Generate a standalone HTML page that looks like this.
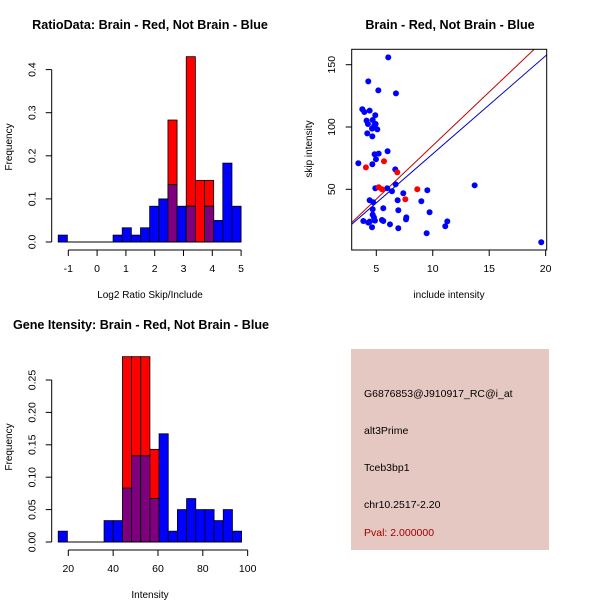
<!DOCTYPE html>
<html><head><meta charset="utf-8"><style>
body{margin:0;background:#fff}
svg{display:block;font-family:"Liberation Sans",sans-serif}
</style></head><body>
<svg id="c" width="600" height="600" xmlns="http://www.w3.org/2000/svg">
<text x="150" y="29" font-size="12.6" font-weight="bold" text-anchor="middle">RatioData: Brain - Red, Not Brain - Blue</text>
<text x="450" y="29" font-size="12.6" font-weight="bold" text-anchor="middle">Brain - Red, Not Brain - Blue</text>
<text x="141" y="329" font-size="12.6" font-weight="bold" text-anchor="middle">Gene Itensity: Brain - Red, Not Brain - Blue</text>
<text x="150" y="298" font-size="10" text-anchor="middle">Log2 Ratio Skip/Include</text>
<text x="12" y="147" font-size="10" text-anchor="middle" transform="rotate(-90 12 147)">Frequency</text>
<text x="449" y="298" font-size="10" text-anchor="middle">include intensity</text>
<text x="312" y="149" font-size="10" text-anchor="middle" transform="rotate(-90 312 149)">skip intensity</text>
<text x="150" y="598" font-size="10" text-anchor="middle">Intensity</text>
<text x="12" y="447" font-size="10" text-anchor="middle" transform="rotate(-90 12 447)">Frequency</text>
<rect x="351" y="349" width="198" height="201" fill="#e5c8c2"/>
<g font-size="10.5">
<text x="364" y="397">G6876853@J910917_RC@i_at</text>
<text x="364" y="434">alt3Prime</text>
<text x="364" y="471">Tceb3bp1</text>
<text x="364" y="508">chr10.2517-2.20</text>
<text x="364" y="536" fill="#a00000">Pval: 2.000000</text>
</g>
</svg>
<script>
const ratioRed=[0,0,0,0,0,0,0,0,0,0,0,0,0.283,0,0.43,0.143,0.143,0,0,0];
const ratioBlue=[0.016,0,0,0,0,0,0.016,0.033,0.016,0.033,0.083,0.1,0.133,0.083,0.083,0,0.083,0.05,0.183,0.083];
const ratioTicksX=[-1,0,1,2,3,4,5];
const ratioTicksY=["0.0","0.1","0.2","0.3","0.4"];
const intRed=[0,0,0,0,0,0,0,0.286,0.286,0.286,0.143,0,0,0,0,0,0,0,0,0];
const intBlue=[0.0167,0,0,0,0,0.033,0.033,0.083,0.133,0.133,0.067,0.167,0.0167,0.05,0.067,0.05,0.05,0.033,0.05,0.0167];
const intTicksX=[20,40,60,80,100];
const intTicksY=["0.00","0.05","0.10","0.15","0.20","0.25"];
const blueX=[6.06,4.29,5.18,6.74,3.76,4.41,3.94,4.91,4.14,4.68,4.94,4.26,4.62,4.82,5.09,4.20,4.65,6.00,5.21,4.85,4.97,3.41,4.65,6.68,4.91,5.97,6.39,6.71,7.39,4.41,4.73,9.52,13.71,8.99,4.68,5.62,6.89,6.95,9.72,7.66,7.63,3.85,4.41,5.62,5.50,4.68,4.79,4.88,4.29,4.62,6.21,6.95,9.46,11.11,11.29,19.61];
const blueY=[155.9,136.6,129.4,127.0,114.2,113.1,112.0,109.4,105.1,105.6,102.4,102.4,98.7,101.3,98.1,94.9,92.5,80.5,78.6,78.1,74.1,70.9,70.1,66.0,50.8,50.8,48.4,54.0,46.8,41.2,39.6,49.2,53.2,40.4,34.0,34.8,41.2,33.2,31.6,27.5,25.9,24.6,24.1,24.6,25.4,29.7,27.5,24.9,23.3,19.5,21.9,18.7,14.7,20.3,24.3,7.5];
const redX=[4.08,5.68,6.86,5.21,5.50,8.63,7.57];
const redY=[67.6,72.5,63.6,51.6,50.0,50.0,42.0];
const scTicksX=[5,10,15,20];
const scTicksY=[50,100,150];
const redLine=[-0.9,8.6];
const blueLine=[-0.25,7.87];

const svg=document.getElementById('c');
const NS='http://www.w3.org/2000/svg';
function mk(t,a,p){const e=document.createElementNS(NS,t);for(const k in a)e.setAttribute(k,a[k]);(p||svg).appendChild(e);return e;}

function hist(o){
  const g=mk('g',{});
  
  
  const sx=v=>o.x0+(v-o.d0)*o.kx, sy=v=>o.y0-v*o.ky;
  o.red.forEach((r,i)=>{
    const b=o.blue[i],l=sx(o.start+i*o.w),rr=sx(o.start+(i+1)*o.w);
    if(r>0){const e=mk('rect',{x:l,y:sy(r),width:rr-l,height:sy(0)-sy(r),fill:'#ff0000',stroke:'#000','stroke-width':0.8},g);
      
      }
    if(b>0){const e=mk('rect',{x:l,y:sy(b),width:rr-l,height:sy(0)-sy(b),fill:'#0000ff',stroke:'#000','stroke-width':0.8},g);
      
      }
    const m=Math.min(r,b);
    if(m>0){const e=mk('rect',{x:l,y:sy(m),width:rr-l,height:sy(0)-sy(m),fill:'#7f007f',stroke:'#000','stroke-width':0.8},g);
      
      }
  });
  mk('line',{x1:sx(o.start),x2:sx(o.start+o.w*o.red.length),y1:sy(0),y2:sy(0),stroke:'#000'},g);
  const ax=o.ticksX;
  mk('line',{x1:sx(ax[0]),x2:sx(ax[ax.length-1]),y1:o.axY,y2:o.axY,stroke:'#000'},g);
  ax.forEach(t=>{mk('line',{x1:sx(t),x2:sx(t),y1:o.axY,y2:o.axY+6,stroke:'#000'},g);
    const tx=mk('text',{x:sx(t),y:o.axY+22,'font-size':10.5,'text-anchor':'middle'},g);tx.textContent=t;
    
    });
  const ty=o.ticksY;
  mk('line',{x1:o.axX,x2:o.axX,y1:sy(+ty[0]),y2:sy(+ty[ty.length-1]),stroke:'#000'},g);
  ty.forEach(t=>{const y=sy(+t);mk('line',{x1:o.axX-6,x2:o.axX,y1:y,y2:y,stroke:'#000'},g);
    const lx=o.axX-16;
    const tx=mk('text',{x:lx,y:y,'font-size':10.5,'text-anchor':'middle',transform:`rotate(-90 ${lx} ${y})`},g);tx.textContent=t;
    
    });
}
hist({name:'ratio-histogram',red:ratioRed,blue:ratioBlue,start:-1.35,w:0.3175,d0:-1,x0:68.3,kx:28.8,y0:242,ky:431,axY:250,axX:51.7,ticksX:ratioTicksX,ticksY:ratioTicksY});
hist({name:'intensity-histogram',red:intRed,blue:intBlue,start:15.5,w:4.09,d0:20,x0:68.3,kx:2.242,y0:542,ky:648,axY:550,axX:51.7,ticksX:intTicksX,ticksY:intTicksY});

const sg=mk('g',{});


const X=v=>376.3+(v-5)*11.29, Y=v=>189.3-(v-50)*1.246;
const cp=mk('clipPath',{id:'cp'},sg);mk('rect',{x:351.7,y:49.3,width:195,height:200.7},cp);
[[redLine,'#c00000','red-fit-line'],[blueLine,'#0000c0','blue-fit-line']].forEach(([ln,c,n])=>{
  const e=mk('line',{x1:X(0),y1:Y(ln[0]),x2:X(25),y2:Y(ln[0]+ln[1]*25),stroke:c,'stroke-width':1,'clip-path':'url(#cp)'},sg);
  
  
});
blueX.forEach((x,i)=>{const e=mk('circle',{cx:X(x),cy:Y(blueY[i]),r:3,fill:'#0000ff'},sg);
  
  });
redX.forEach((x,i)=>{const e=mk('circle',{cx:X(x),cy:Y(redY[i]),r:3,fill:'#ff0000'},sg);
  
  });
mk('rect',{x:351.7,y:49.3,width:195,height:200.7,fill:'none',stroke:'#000'},sg);
scTicksX.forEach(t=>{mk('line',{x1:X(t),x2:X(t),y1:250,y2:256,stroke:'#000'},sg);
  const tx=mk('text',{x:X(t),y:272,'font-size':10.5,'text-anchor':'middle'},sg);tx.textContent=t;
  
  });
scTicksY.forEach(t=>{const y=Y(t);mk('line',{x1:345.7,x2:351.7,y1:y,y2:y,stroke:'#000'},sg);
  const tx=mk('text',{x:335,y:y,'font-size':10.5,'text-anchor':'middle',transform:`rotate(-90 335 ${y})`},sg);tx.textContent=t;
  
  });
</script>
</body></html>
